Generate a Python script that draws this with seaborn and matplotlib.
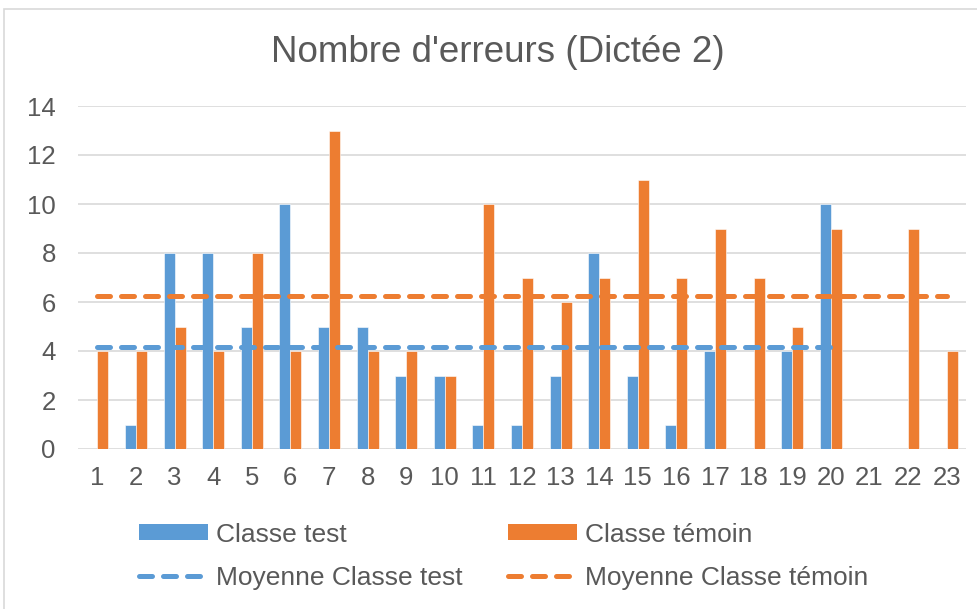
import numpy as np
import pandas as pd
import seaborn as sns
import matplotlib
matplotlib.use("Agg")
import matplotlib.pyplot as plt
from matplotlib.patches import Patch, Rectangle
from matplotlib.lines import Line2D

categories = [str(i) for i in range(1, 24)]
classe_test = [0, 1, 8, 8, 5, 10, 5, 5, 3, 3, 1, 1, 3, 8, 3, 1, 4, 0, 4, 10,
               np.nan, np.nan, np.nan]
classe_temoin = [4, 4, 5, 4, 8, 4, 13, 4, 4, 3, 10, 7, 6, 7, 11, 7, 9, 7, 5, 9,
                 0, 9, 4]
y_ticks = [0, 2, 4, 6, 8, 10, 12, 14]
title = "Nombre d'erreurs (Dictée 2)"
series_names = ["Classe test", "Classe témoin"]
mean_names = ["Moyenne Classe test", "Moyenne Classe témoin"]

BLUE = "#5B9BD5"
ORANGE = "#ED7D31"
TXT = "#595959"
GRID = "#D9D9D9"

sns.set_theme(style="white")
plt.rcParams["font.family"] = ["Liberation Sans", "DejaVu Sans"]

df = pd.DataFrame({
    "cat": categories * 2,
    "val": classe_test + classe_temoin,
    "serie": [series_names[0]] * len(categories) + [series_names[1]] * len(categories),
})

fig = plt.figure(figsize=(9.77, 6.09), dpi=100)
ax = fig.add_axes([78 / 977, 1 - 449 / 609, (966 - 78) / 977, (449 - 106) / 609])

sns.barplot(data=df, x="cat", y="val", hue="serie", order=categories,
            hue_order=series_names, palette=[BLUE, ORANGE], saturation=1,
            width=0.57, errorbar=None, edgecolor="white", linewidth=0.4,
            ax=ax, legend=False, zorder=3)

test_arr = np.array(classe_test, dtype=float)
tem_arr = np.array(classe_temoin, dtype=float)
valid_test = np.where(~np.isnan(test_arr))[0]
mean_test = np.nanmean(test_arr)
mean_tem = np.nanmean(tem_arr)

dash_kw = dict(lw=3.6, dashes=(2.6, 2.2), dash_capstyle="round")
ax.plot([valid_test[0], valid_test[-1]], [mean_test, mean_test], color=BLUE,
        zorder=4, **dash_kw)
ax.plot([0, len(categories) - 1], [mean_tem, mean_tem], color=ORANGE,
        zorder=4, **dash_kw)

ax.set_xlim(-0.5, len(categories) - 0.5)
ax.set_ylim(0, 14)
ax.set_yticks(y_ticks)
ax.set_yticklabels([str(v) for v in y_ticks])
ax.grid(axis="y", color=GRID, lw=1.2, zorder=0)
ax.grid(axis="x", visible=False)
for s in ax.spines.values():
    s.set_visible(False)
ax.set_xlabel("")
ax.set_ylabel("")
ax.tick_params(axis="both", length=0, labelsize=18.5, labelcolor=TXT)
ax.tick_params(axis="x", pad=12)
ax.tick_params(axis="y", pad=16)

fig.text(498 / 977, 1 - 53 / 609, title, ha="center", va="center",
         fontsize=26.5, color=TXT)

handles = [
    Patch(facecolor=BLUE, edgecolor="none"),
    Line2D([0], [0], color=BLUE, **dash_kw),
    Patch(facecolor=ORANGE, edgecolor="none"),
    Line2D([0], [0], color=ORANGE, **dash_kw),
]
labels = [series_names[0], mean_names[0], series_names[1], mean_names[1]]
leg = fig.legend(handles, labels, ncol=2, loc="center left",
                 bbox_to_anchor=(139 / 977, 1 - 556 / 609), frameon=False,
                 fontsize=19, handlelength=2.6, handleheight=0.55,
                 handletextpad=0.3, columnspacing=1.74, labelspacing=0.72,
                 borderpad=0, borderaxespad=0, labelcolor=TXT)

fig.patches.append(Rectangle((4 / 977, -0.05), 1.1, 1 - 9 / 609 + 0.05,
                             transform=fig.transFigure, fill=False,
                             edgecolor=GRID, lw=1.2))

fig.savefig("out.png", dpi=100, facecolor="white")
